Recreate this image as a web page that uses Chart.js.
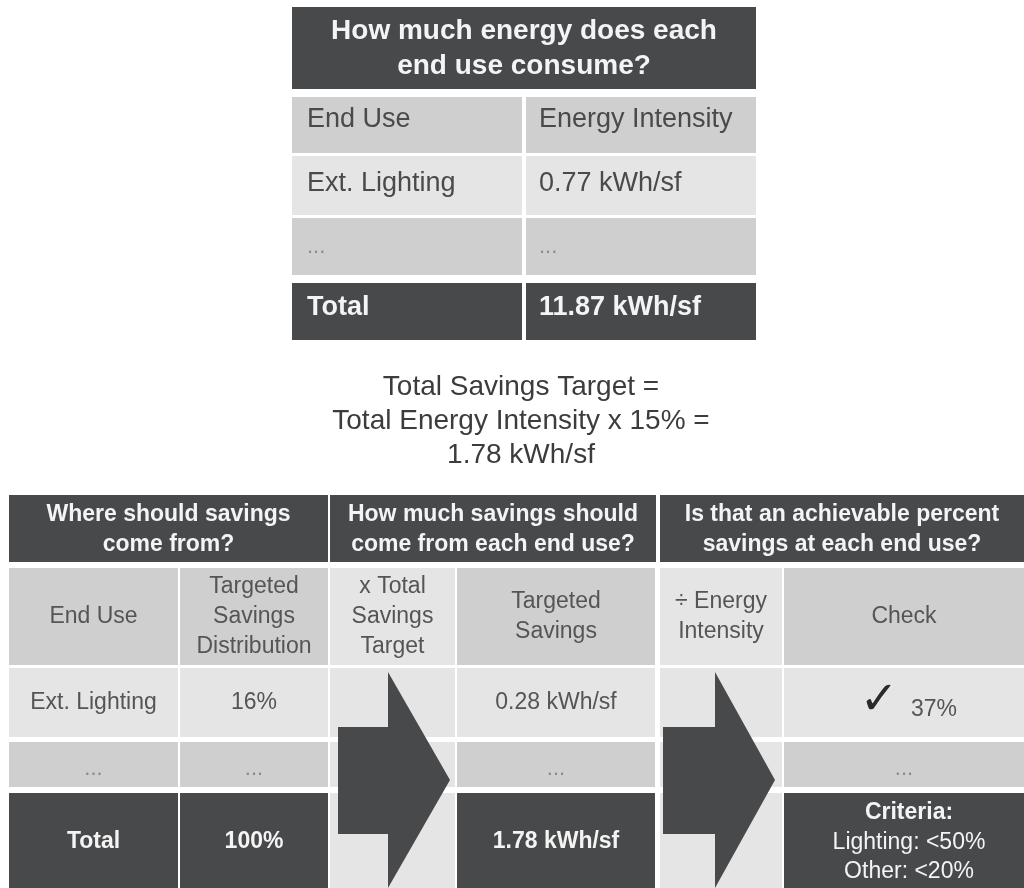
<!DOCTYPE html>
<html>
<head>
<meta charset="utf-8">
<script src="https://cdn.jsdelivr.net/npm/chart.js@4/dist/chart.umd.min.js"></script>
<style>
  html, body { margin: 0; padding: 0; background: #ffffff; }
  #board { display: block; }
</style>
</head>
<body>
<canvas id="board" width="1024" height="888"></canvas>
<script>
// table contents
const topQuestion = ["How much energy does each", "end use consume?"];
const topColumns = ["End Use", "Energy Intensity"];
const endUses = ["Ext. Lighting", "..."];
const energyIntensity = ["0.77 kWh/sf", "..."];
const totalIntensity = "11.87 kWh/sf";

const targetLines = ["Total Savings Target =", "Total Energy Intensity x 15% =", "1.78 kWh/sf"];

const stepQuestions = [
  ["Where should savings", "come from?"],
  ["How much savings should", "come from each end use?"],
  ["Is that an achievable percent", "savings at each end use?"],
];
const stepColumns = [
  ["End Use"],
  ["Targeted", "Savings", "Distribution"],
  ["x Total", "Savings", "Target"],
  ["Targeted", "Savings"],
  ["\u00f7 Energy", "Intensity"],
  ["Check"],
];
const savingsShare = ["16%", "..."];
const totalShare = "100%";
const targetedSavings = ["0.28 kWh/sf", "..."];
const totalSavings = "1.78 kWh/sf";
const checkValues = ["37%", "..."];
const criteria = ["Criteria:", "Lighting: <50%", "Other: <20%"];

// colours
const DARK = "#48494b";
const GRAY = "#cfcfcf";
const LIGHT = "#e5e5e5";
const INK = "#4a4a4a";
const HEAD_INK = "#f4f4f4";
const DOTS = "#8a8a8a";
const FONT = "'Liberation Sans', Arial, sans-serif";

// grid layout (in board units)
const topCols = [[292, 522], [526, 756]];
const topHead = [7, 89];
const topRows = [[97, 153], [156, 215], [218, 275], [283, 340]];

const botGroups = [[9, 328], [330, 656], [660, 1024]];
const botCols = [[9, 178], [180, 328], [330, 455], [457, 655], [660, 782], [784, 1024]];
const botHead = [495, 562];
const botRows = [[568, 665], [668, 737], [742, 787], [793, 888]];
const arrowCols = [2, 4];

const tablePlugin = {
  id: "tablePlugin",
  afterDraw(chart) {
    const ctx = chart.ctx;
    const sx = chart.scales.x, sy = chart.scales.y;
    const px = (v) => sx.getPixelForValue(v);
    const py = (v) => sy.getPixelForValue(v);

    const cell = (xs, ys, color) => {
      ctx.fillStyle = color;
      ctx.fillRect(px(xs[0]), py(ys[0]), px(xs[1]) - px(xs[0]), py(ys[1]) - py(ys[0]));
    };
    const text = (lines, x, y, size, color, opts = {}) => {
      const lh = opts.lh || size * 1.25;
      ctx.font = (opts.bold ? "bold " : "") + size + "px " + (opts.family || FONT);
      ctx.fillStyle = color;
      ctx.textAlign = opts.align || "center";
      ctx.textBaseline = "middle";
      const y0 = y - (lines.length - 1) * lh / 2;
      lines.forEach((s, i) => ctx.fillText(s, px(x), py(y0 + i * lh)));
    };
    const dots = (x, y, align) => {
      ctx.font = "22px " + FONT;
      ctx.fillStyle = DOTS;
      ctx.textAlign = align;
      ctx.textBaseline = "alphabetic";
      ctx.fillText("...", px(x), py(y));
    };
    const mid = (r) => (r[0] + r[1]) / 2;

    ctx.save();

    // top table
    cell([topCols[0][0], topCols[1][1]], topHead, DARK);
    text(topQuestion, 524, 49, 28, HEAD_INK, { bold: true, lh: 35 });
    const topFill = [GRAY, LIGHT, GRAY, DARK];
    topRows.forEach((r, i) => topCols.forEach((c) => cell(c, r, topFill[i])));
    const tx = [307, 539];
    topColumns.forEach((s, j) => text([s], tx[j], mid(topRows[0]) - 5, 27, INK, { align: "left" }));
    endUses.forEach((s, i) => {
      const r = topRows[i + 1];
      if (s === "...") dots(tx[0], mid(r) + 6, "left");
      else text([s], tx[0], mid(r) - 2, 27, INK, { align: "left" });
    });
    energyIntensity.forEach((s, i) => {
      const r = topRows[i + 1];
      if (s === "...") dots(tx[1], mid(r) + 6, "left");
      else text([s], tx[1], mid(r) - 2, 27, INK, { align: "left" });
    });
    text(["Total"], tx[0], mid(topRows[3]) - 4, 27, HEAD_INK, { align: "left", bold: true });
    text([totalIntensity], tx[1], mid(topRows[3]) - 4, 27, HEAD_INK, { align: "left", bold: true });

    // savings target text
    text(targetLines, 521, 421, 28, "#3c3c3c", { lh: 34 });

    // bottom table
    botGroups.forEach((g, k) => {
      cell(g, botHead, DARK);
      text(stepQuestions[k], mid(g), 530, 23, HEAD_INK, { bold: true, lh: 30 });
    });
    const rowFill = [GRAY, LIGHT, GRAY, DARK];
    botCols.forEach((c, j) => {
      botRows.forEach((r, i) => {
        const col = arrowCols.includes(j) ? LIGHT : rowFill[i];
        cell(c, r, col);
      });
      text(stepColumns[j], mid(c), 617, 23, "#555555", { lh: 30 });
    });

    // body values
    const bodyCols = [[endUses, 0], [savingsShare, 1], [targetedSavings, 3]];
    bodyCols.forEach(([vals, j]) => {
      vals.forEach((s) => {
        if (s === "...") dots(mid(botCols[j]), 775, "center");
        else text([s], mid(botCols[j]), 703, 23, "#555555");
      });
    });
    // check column
    text(["\u2713"], 879, 702, 46, "#2a2a2a", { family: "'DejaVu Sans', sans-serif" });
    text([checkValues[0]], 934, 710, 23, "#555555");
    dots(mid(botCols[5]), 775, "center");

    // totals
    text(["Total"], mid(botCols[0]), 842, 23, HEAD_INK, { bold: true });
    text([totalShare], mid(botCols[1]), 842, 23, HEAD_INK, { bold: true });
    text([totalSavings], mid(botCols[3]), 842, 23, HEAD_INK, { bold: true });
    text([criteria[0]], 909, 813, 23, HEAD_INK, { bold: true });
    text(criteria.slice(1), 909, 857, 23, HEAD_INK, { lh: 29 });

    // arrows
    const arrows = [
      { body: [338, 388], head: 450 },
      { body: [663, 715], head: 775 },
    ];
    ctx.fillStyle = DARK;
    arrows.forEach((a) => {
      ctx.beginPath();
      ctx.moveTo(px(a.body[0]), py(727));
      ctx.lineTo(px(a.body[1]), py(727));
      ctx.lineTo(px(a.body[1]), py(672));
      ctx.lineTo(px(a.head), py(780));
      ctx.lineTo(px(a.body[1]), py(888));
      ctx.lineTo(px(a.body[1]), py(834));
      ctx.lineTo(px(a.body[0]), py(834));
      ctx.closePath();
      ctx.fill();
    });

    ctx.restore();
  },
};

new Chart(document.getElementById("board").getContext("2d"), {
  type: "scatter",
  data: { datasets: [{ data: [] }] },
  options: {
    responsive: false,
    animation: false,
    layout: { padding: 0 },
    plugins: { legend: { display: false }, tooltip: { enabled: false } },
    scales: {
      x: { type: "linear", min: 0, max: 1024, display: false },
      y: { type: "linear", min: 0, max: 888, reverse: true, display: false },
    },
  },
  plugins: [tablePlugin],
});
</script>
</body>
</html>
